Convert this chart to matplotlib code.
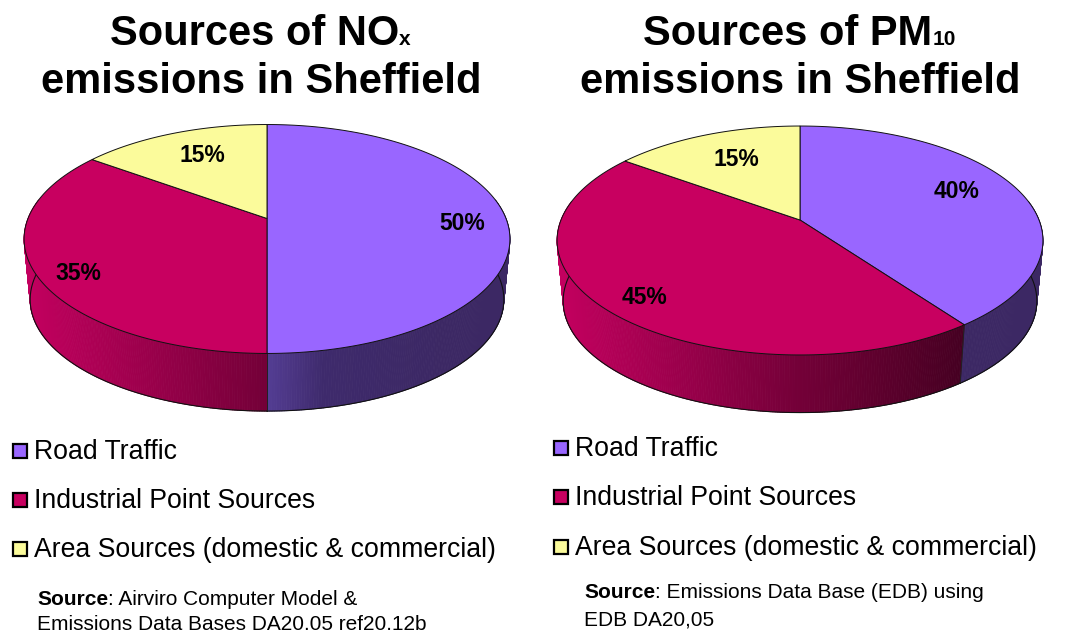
import numpy as np
import matplotlib
matplotlib.use('Agg')
import matplotlib.pyplot as plt
from matplotlib.patches import Polygon, Rectangle
from matplotlib.collections import PolyCollection

plt.rcParams['font.family'] = ['Liberation Sans', 'DejaVu Sans']

# data
categories = ['Road Traffic', 'Industrial Point Sources', 'Area Sources (domestic & commercial)']
nox_shares = [50, 35, 15]
pm10_shares = [40, 45, 15]
nox_source = ['Airviro Computer Model &', 'Emissions Data Bases DA20,05 ref20,12b']
pm10_source = ['Emissions Data Base (EDB) using', 'EDB DA20,05']

top_colors = ['#9966ff', '#c80060', '#fbfb9b']
# side wall colours against distance from the left rim of the pie (px)
side_stops = [0, 240, 300, 420, 490]
side_colors = [
    [(85, 62, 150), (85, 62, 150), (62, 42, 108), (60, 40, 100), (60, 40, 100)],
    [(195, 0, 95), (116, 0, 56), (100, 0, 48), (66, 0, 32), (66, 0, 32)],
    [(150, 150, 90), (150, 150, 90), (150, 150, 90), (150, 150, 90), (150, 150, 90)],
]

fig = plt.figure(figsize=(10.68, 6.3), dpi=100)
ax = fig.add_axes([0, 0, 1, 1])
ax.set_xlim(0, 1068)
ax.set_ylim(630, 0)
ax.axis('off')
renderer = fig.canvas.get_renderer()


def project(clock_deg, cx, cy, lower=False):
    # tilted circle: the pie centre sits above the middle of the ellipse
    a = np.radians(clock_deg)
    x, y = np.sin(a), np.cos(a)
    px = 239 * x / (1 + 0.179 * y)
    py = -110.8 * y / (1 + 0.179 * y)
    if lower:
        return cx + 0.975 * px, cy + 61 + 0.975 * py
    return cx + px, cy + py


def draw_pie(shares, cx, cy):
    edges = np.concatenate([[0], np.cumsum(shares)]) * 3.6

    # side wall first, the top covers whatever is behind it
    for i in range(len(shares)):
        a0, a1 = max(edges[i], 80), min(edges[i + 1], 280)
        if a1 <= a0:
            continue
        angles = np.arange(a0, a1, 0.5)
        angles = np.append(angles, a1)
        ux, uy = project(angles, cx, cy)
        lx, ly = project(angles, cx, cy, lower=True)
        quads = []
        cols = []
        for j in range(len(angles) - 1):
            quads.append([(ux[j], uy[j]), (ux[j + 1], uy[j + 1]), (lx[j + 1], ly[j + 1]), (lx[j], ly[j])])
            off = (ux[j] + ux[j + 1]) / 2 - (cx - 243)
            cols.append([np.interp(off, side_stops, [c[k] for c in side_colors[i]]) / 255 for k in range(3)])
        ax.add_collection(PolyCollection(quads, facecolors=cols, edgecolors=cols, linewidths=0.6, zorder=1))
        ax.plot(lx, ly, color='#111111', lw=0.8, zorder=2)
        # vertical seam between two slices
        if 90 < edges[i + 1] < 270:
            ax.plot([ux[-1], lx[-1]], [uy[-1], ly[-1]], color='#222222', lw=0.7, zorder=2)

    for i in range(len(shares)):
        angles = np.linspace(edges[i], edges[i + 1], 200)
        x, y = project(angles, cx, cy)
        pts = [(cx, cy)] + list(zip(x, y))
        ax.add_patch(Polygon(pts, closed=True, facecolor=top_colors[i], edgecolor='#111111', lw=0.7, zorder=3))


def text_runs(x, y, runs):
    # strings set one after the other on the same baseline
    for s, size, weight in runs:
        t = ax.text(x, y, s, fontsize=size, fontweight=weight, va='baseline', ha='left', color='black', zorder=5)
        x += t.get_window_extent(renderer).width


def draw_legend(box_x, text_x, baselines):
    for name, col, base in zip(categories, top_colors, baselines):
        ax.add_patch(Rectangle((box_x, base - 15), 14, 14, facecolor=col, edgecolor='black', lw=1.6, zorder=4))
        ax.text(text_x, base, name, fontsize=19.2, va='baseline', ha='left')


def draw_source(x, baselines, lines):
    text_runs(x, baselines[0], [('Source', 15, 'bold'), (': ' + lines[0], 15, 'normal')])
    ax.text(x, baselines[1], lines[1], fontsize=15, va='baseline', ha='left')


draw_pie(nox_shares, 267, 218.5)
draw_pie(pm10_shares, 800, 220)

title_size = 30
text_runs(110, 45, [('Sources of NO', title_size, 'bold'), ('x', 15, 'bold')])
ax.text(41, 93, 'emissions in Sheffield', fontsize=title_size, fontweight='bold', va='baseline', ha='left')
text_runs(643, 45, [('Sources of PM', title_size, 'bold'), ('10', 15, 'bold')])
ax.text(580, 93, 'emissions in Sheffield', fontsize=title_size, fontweight='bold', va='baseline', ha='left')

for share, (lx, ly) in zip(nox_shares, [(462, 223), (78, 274), (202, 156)]):
    ax.text(lx, ly, f'{share}%', fontsize=16.5, fontweight='bold', ha='center', va='center', zorder=5)
for share, (lx, ly) in zip(pm10_shares, [(957, 191), (644, 297), (736, 159)]):
    ax.text(lx, ly, f'{share}%', fontsize=16.5, fontweight='bold', ha='center', va='center', zorder=5)

draw_legend(13, 34, [459, 508, 557])
draw_legend(554, 575, [456, 505, 555])

draw_source(37, [605, 629], nox_source)
draw_source(584, [598, 626], pm10_source)

fig.savefig('out.png', dpi=100, facecolor='white')
